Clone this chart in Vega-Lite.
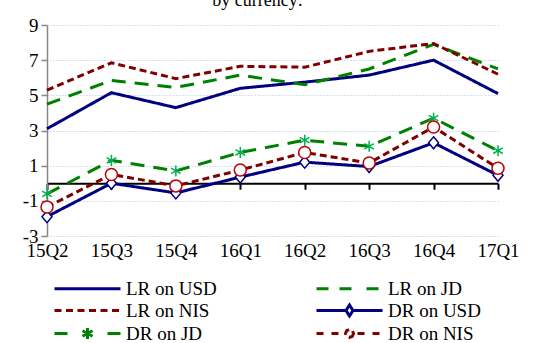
{
  "$schema": "https://vega.github.io/schema/vega-lite/v6.json",
  "autosize": "none",
  "width": 451,
  "height": 211,
  "padding": {"left": 47, "top": 25, "right": 49, "bottom": 107},
  "background": "white",
  "view": {"stroke": null},
  "title": {"text": "by currency:", "font": "Liberation Serif", "fontSize": 18, "fontWeight": "normal", "color": "black", "anchor": "middle", "frame": "group", "offset": 6, "dx": -15},
  "config": {
    "font": "Liberation Serif",
    "axis": {"labelFont": "Liberation Serif", "labelFontSize": 19, "labelColor": "black", "title": null},
    "legend": {"labelFont": "Liberation Serif", "labelFontSize": 19, "labelColor": "black"}
  },
  "data": {"values": [
    {"q": "15Q2", "s": "LR on USD", "v": 3.1}, {"q": "15Q3", "s": "LR on USD", "v": 5.15}, {"q": "15Q4", "s": "LR on USD", "v": 4.3}, {"q": "16Q1", "s": "LR on USD", "v": 5.4},
    {"q": "16Q2", "s": "LR on USD", "v": 5.75}, {"q": "16Q3", "s": "LR on USD", "v": 6.15}, {"q": "16Q4", "s": "LR on USD", "v": 7.0}, {"q": "17Q1", "s": "LR on USD", "v": 5.1},
    {"q": "15Q2", "s": "LR on JD", "v": 4.5}, {"q": "15Q3", "s": "LR on JD", "v": 5.85}, {"q": "15Q4", "s": "LR on JD", "v": 5.45}, {"q": "16Q1", "s": "LR on JD", "v": 6.15},
    {"q": "16Q2", "s": "LR on JD", "v": 5.6}, {"q": "16Q3", "s": "LR on JD", "v": 6.5}, {"q": "16Q4", "s": "LR on JD", "v": 7.9}, {"q": "17Q1", "s": "LR on JD", "v": 6.5},
    {"q": "15Q2", "s": "LR on NIS", "v": 5.3}, {"q": "15Q3", "s": "LR on NIS", "v": 6.85}, {"q": "15Q4", "s": "LR on NIS", "v": 5.95}, {"q": "16Q1", "s": "LR on NIS", "v": 6.65},
    {"q": "16Q2", "s": "LR on NIS", "v": 6.6}, {"q": "16Q3", "s": "LR on NIS", "v": 7.5}, {"q": "16Q4", "s": "LR on NIS", "v": 7.95}, {"q": "17Q1", "s": "LR on NIS", "v": 6.2},
    {"q": "15Q2", "s": "DR on USD", "v": -1.9}, {"q": "15Q3", "s": "DR on USD", "v": 0.0}, {"q": "15Q4", "s": "DR on USD", "v": -0.55}, {"q": "16Q1", "s": "DR on USD", "v": 0.35},
    {"q": "16Q2", "s": "DR on USD", "v": 1.2}, {"q": "16Q3", "s": "DR on USD", "v": 0.95}, {"q": "16Q4", "s": "DR on USD", "v": 2.3}, {"q": "17Q1", "s": "DR on USD", "v": 0.45},
    {"q": "15Q2", "s": "DR on JD", "v": -0.6}, {"q": "15Q3", "s": "DR on JD", "v": 1.3}, {"q": "15Q4", "s": "DR on JD", "v": 0.7}, {"q": "16Q1", "s": "DR on JD", "v": 1.75},
    {"q": "16Q2", "s": "DR on JD", "v": 2.45}, {"q": "16Q3", "s": "DR on JD", "v": 2.1}, {"q": "16Q4", "s": "DR on JD", "v": 3.7}, {"q": "17Q1", "s": "DR on JD", "v": 1.85},
    {"q": "15Q2", "s": "DR on NIS", "v": -1.35}, {"q": "15Q3", "s": "DR on NIS", "v": 0.5}, {"q": "15Q4", "s": "DR on NIS", "v": -0.15}, {"q": "16Q1", "s": "DR on NIS", "v": 0.75},
    {"q": "16Q2", "s": "DR on NIS", "v": 1.75}, {"q": "16Q3", "s": "DR on NIS", "v": 1.15}, {"q": "16Q4", "s": "DR on NIS", "v": 3.2}, {"q": "17Q1", "s": "DR on NIS", "v": 0.85}
  ]},
  "encoding": {
    "x": {"field": "q", "type": "ordinal", "sort": null,
      "scale": {"type": "point", "padding": 0},
      "axis": {"orient": "bottom", "offset": -52.75, "domainColor": "black", "domainWidth": 2, "tickColor": "black", "tickWidth": 2, "tickSize": 6, "labelPadding": 52, "labelAngle": 0, "grid": false}},
    "y": {"field": "v", "type": "quantitative",
      "scale": {"domain": [-3, 9], "nice": false, "zero": false},
      "axis": {"values": [-3, -1, 1, 3, 5, 7, 9], "labelExpr": "'' + datum.value", "domainColor": "#868686", "domainWidth": 1.5, "tickColor": "#868686", "tickWidth": 1.5, "tickSize": 6, "labelPadding": 3, "grid": true, "gridColor": "#a9c4eb", "gridDash": [1, 2], "gridWidth": 1}}
  },
  "layer": [
    {
      "mark": {"type": "line", "strokeWidth": 3},
      "encoding": {
        "color": {"field": "s", "type": "nominal",
          "scale": {"domain": ["LR on USD", "LR on JD", "LR on NIS", "DR on USD", "DR on JD", "DR on NIS"],
                    "range": ["#000080", "#008000", "#800000", "#000080", "#008000", "#800000"]},
          "legend": {
            "orient": "none", "legendX": 3, "legendY": 254, "columns": 2, "direction": "horizontal",
            "title": null, "padding": 0, "symbolSize": 100, "symbolStrokeWidth": 3,
            "labelFont": "Liberation Serif", "labelFontSize": 19, "labelColor": "black", "labelOffset": 57, "labelLimit": 200,
            "columnPadding": 93, "rowPadding": 0,
            "encode": {"symbols": {"update": {
              "fill": {"value": "white"},
              "strokeDash": {"value": []},
              "shape": {"signal": "datum.value === 'LR on USD' ? 'M-1,0H12.2' : datum.value === 'LR on JD' ? 'M-1,0H1.4M3.6,0H6M9,0H11.4' : datum.value === 'LR on NIS' ? 'M-1,0H0.6M1.3,0H2.9M3.6,0H5.2M5.9,0H7.5M8.2,0H9.8M10.5,0H12.2' : datum.value === 'DR on USD' ? 'M-1,0H4.7M6.5,0H12.2M5.6,-1.1L6.3,0L5.6,1.1L4.9,0Z' : datum.value === 'DR on JD' ? 'M-1,0H1.6M9.6,0H12.2M5.6,-1.1V1.1M4.6,-0.55L6.6,0.55M4.6,0.55L6.6,-0.55' : 'M-1,0H1M2,0H4M7.2,0H9.2M10.2,0H12.2M6.4,0L6.17,0.57L5.6,0.8L5.03,0.57L4.8,0L5.03,-0.57L5.6,-0.8L6.17,-0.57Z'"}
            }}}
          }},
        "strokeDash": {"field": "s", "type": "nominal",
          "scale": {"domain": ["LR on USD", "LR on JD", "LR on NIS", "DR on USD", "DR on JD", "DR on NIS"],
                    "range": [[1, 0], [14, 9], [7, 4], [1, 0], [14, 9], [7, 4]]},
          "legend": null}
      }
    },
    {
      "transform": [{"filter": {"field": "s", "oneOf": ["DR on USD", "DR on JD", "DR on NIS"]}}],
      "mark": {"type": "point", "fill": "white", "fillOpacity": 1, "opacity": 1, "strokeWidth": 1.5},
      "encoding": {
        "stroke": {"field": "s", "type": "nominal",
          "scale": {"domain": ["DR on USD", "DR on JD", "DR on NIS"], "range": ["#000080", "#00b050", "#c00000"]},
          "legend": null},
        "shape": {"field": "s", "type": "nominal",
          "scale": {"domain": ["DR on USD", "DR on JD", "DR on NIS"],
                    "range": ["M0,-1.2L1,0L0,1.2L-1,0Z", "M0,-1V1M-0.87,-0.5L0.87,0.5M-0.87,0.5L0.87,-0.5", "circle"]},
          "legend": null},
        "size": {"field": "s", "type": "nominal",
          "scale": {"domain": ["DR on USD", "DR on JD", "DR on NIS"], "range": [100, 144, 64]},
          "legend": null}
      }
    }
  ]
}
